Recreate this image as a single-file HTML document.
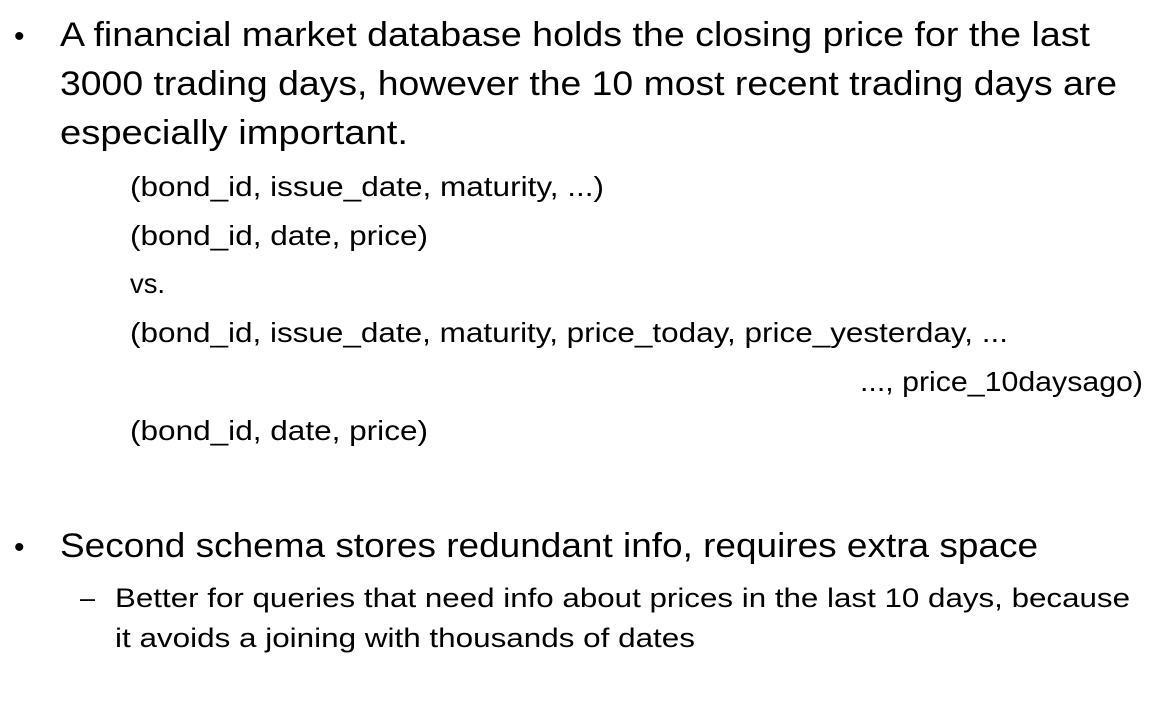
<!DOCTYPE html>
<html>
<head>
<meta charset="utf-8">
<style>
html,body{margin:0;padding:0;background:#fff;}
svg{display:block;}
text{font-family:"Liberation Sans",sans-serif;fill:#000;}
</style>
</head>
<body>
<svg width="1160" height="703" viewBox="0 0 1160 703">
  <rect width="1160" height="703" fill="#fff"/>
  <text x="14" y="46" font-size="30">•</text>
  <text x="60" y="46" font-size="34" textLength="1030" lengthAdjust="spacingAndGlyphs">A financial market database holds the closing price for the last</text>
  <text x="60" y="95" font-size="34" textLength="1057" lengthAdjust="spacingAndGlyphs">3000 trading days, however the 10 most recent trading days are</text>
  <text x="60" y="144" font-size="34" textLength="348" lengthAdjust="spacingAndGlyphs">especially important.</text>

  <text x="130" y="196" font-size="28" textLength="474" lengthAdjust="spacingAndGlyphs">(bond_id, issue_date, maturity, ...)</text>
  <text x="130" y="245" font-size="28" textLength="298" lengthAdjust="spacingAndGlyphs">(bond_id, date, price)</text>
  <text x="130" y="293" font-size="28" textLength="35" lengthAdjust="spacingAndGlyphs">vs.</text>
  <text x="130" y="342" font-size="28" textLength="878" lengthAdjust="spacingAndGlyphs">(bond_id, issue_date, maturity, price_today, price_yesterday, ...</text>
  <text x="860" y="391" font-size="28" textLength="283" lengthAdjust="spacingAndGlyphs">..., price_10daysago)</text>
  <text x="130" y="440" font-size="28" textLength="298" lengthAdjust="spacingAndGlyphs">(bond_id, date, price)</text>

  <text x="14" y="557" font-size="30">•</text>
  <text x="60" y="557" font-size="34" textLength="978" lengthAdjust="spacingAndGlyphs">Second schema stores redundant info, requires extra space</text>
  <text x="80" y="607" font-size="27">–</text>
  <text x="115" y="607" font-size="27" textLength="1015" lengthAdjust="spacingAndGlyphs">Better for queries that need info about prices in the last 10 days, because</text>
  <text x="115" y="647" font-size="27" textLength="580" lengthAdjust="spacingAndGlyphs">it avoids a joining with thousands of dates</text>
</svg>
</body>
</html>
